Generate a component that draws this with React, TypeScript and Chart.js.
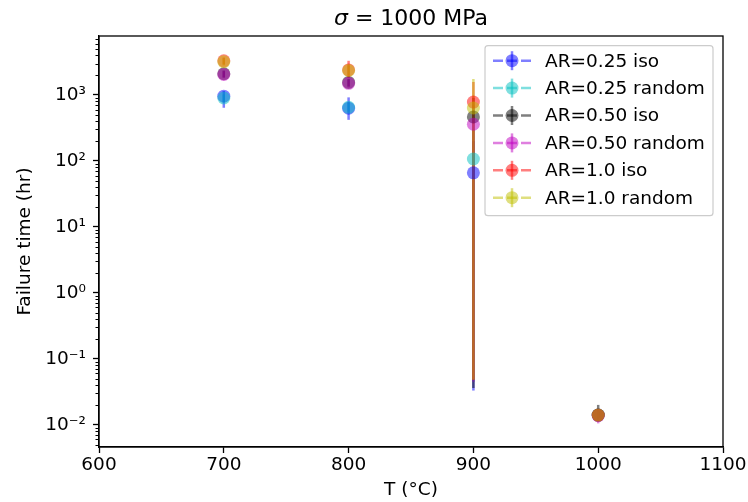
import React, { useEffect, useRef } from "react";
import { Chart, registerables } from "chart.js";

Chart.register(...registerables);

const titleSymbol = "σ";
const titleRest = " = 1000 MPa";
const xAxisTitle = "T (°C)";
const yAxisTitle = "Failure time (hr)";

const temperatures = [700, 800, 900, 1000];
const xTickValues = [600, 700, 800, 900, 1000, 1100];
const yTickValues = [0.01, 0.1, 1, 10, 100, 1000];
const yTickLabels = ["10⁻²", "10⁻¹", "10⁰", "10¹", "10²", "10³"];
const yMinorMultipliers = [2, 3, 4, 5, 6, 7, 8, 9];
const yDecades = [0.001, 0.01, 0.1, 1, 10, 100, 1000];

const seriesLabels = [
  "AR=0.25 iso",
  "AR=0.25 random",
  "AR=0.50 iso",
  "AR=0.50 random",
  "AR=1.0 iso",
  "AR=1.0 random",
];
const seriesColors = ["0,0,255", "0,191,191", "0,0,0", "191,0,191", "255,0,0", "191,191,0"];

const ar025IsoTime = [960, 630, 66, 0.014];
const ar025IsoLow = [640, 420, 0.033, 0.0128];
const ar025IsoHigh = [1150, 920, 200, 0.0155];

const ar025RandomTime = [900, 650, 107, 0.014];
const ar025RandomLow = [780, 560, 0.045, 0.0128];
const ar025RandomHigh = [1020, 760, 300, 0.0155];

const ar050IsoTime = [2100, 1550, 465, 0.014];
const ar050IsoLow = [1850, 1350, 0.036, 0.012];
const ar050IsoHigh = [2350, 1750, 900, 0.02];

const ar050RandomTime = [2050, 1500, 360, 0.0138];
const ar050RandomLow = [1800, 1300, 0.045, 0.0105];
const ar050RandomHigh = [2300, 1700, 700, 0.017];

const ar10IsoTime = [3300, 2400, 780, 0.014];
const ar10IsoLow = [2900, 1800, 0.048, 0.0125];
const ar10IsoHigh = [3700, 3300, 1580, 0.016];

const ar10RandomTime = [3200, 2350, 635, 0.014];
const ar10RandomLow = [2800, 2000, 0.048, 0.0125];
const ar10RandomHigh = [3600, 2800, 1750, 0.016];

const seriesTimes = [ar025IsoTime, ar025RandomTime, ar050IsoTime, ar050RandomTime, ar10IsoTime, ar10RandomTime];
const seriesLows = [ar025IsoLow, ar025RandomLow, ar050IsoLow, ar050RandomLow, ar10IsoLow, ar10RandomLow];
const seriesHighs = [ar025IsoHigh, ar025RandomHigh, ar050IsoHigh, ar050RandomHigh, ar10IsoHigh, ar10RandomHigh];

const xMin = 600;
const xMax = 1100;
const yMin = 0.0046;
const yMax = 7840;

const FONT = "DejaVu Sans";
const BASE = 18.5;

const errorBarPlugin = {
  id: "errorBars",
  beforeDatasetsDraw(chart: any) {
    const ctx = chart.ctx;
    const xs = chart.scales.x;
    const ys = chart.scales.y;
    ctx.save();
    ctx.lineWidth = 2.5;
    ctx.lineCap = "butt";
    chart.data.datasets.forEach((ds: any) => {
      ctx.strokeStyle = ds.errorColor;
      ds.data.forEach((p: any) => {
        const px = xs.getPixelForValue(p.x);
        ctx.beginPath();
        ctx.moveTo(px, ys.getPixelForValue(p.yMin));
        ctx.lineTo(px, ys.getPixelForValue(p.yMax));
        ctx.stroke();
      });
    });
    ctx.restore();
  },
};

const overlayPlugin = {
  id: "mplOverlay",
  afterDraw(chart: any) {
    const ctx = chart.ctx;
    const ca = chart.chartArea;
    const ys = chart.scales.y;
    ctx.save();

    // minor ticks on log axis
    ctx.strokeStyle = "#000";
    ctx.lineWidth = 1;
    yDecades.forEach((d) => {
      yMinorMultipliers.forEach((m) => {
        const v = d * m;
        if (v < yMin || v > yMax) return;
        const py = Math.round(ys.getPixelForValue(v)) + 0.5;
        ctx.beginPath();
        ctx.moveTo(ca.left, py);
        ctx.lineTo(ca.left - 3.5, py);
        ctx.stroke();
      });
    });

    // spines
    ctx.lineWidth = 1.3;
    ctx.strokeRect(ca.left, ca.top, ca.right - ca.left, ca.bottom - ca.top);

    // title
    ctx.fillStyle = "#000";
    ctx.textBaseline = "alphabetic";
    ctx.font = `italic 22px "${FONT}"`;
    const w1 = ctx.measureText(titleSymbol).width;
    ctx.font = `22px "${FONT}"`;
    const w2 = ctx.measureText(titleRest).width;
    const cx = (ca.left + ca.right) / 2;
    const tx = cx - (w1 + w2) / 2;
    ctx.font = `italic 22px "${FONT}"`;
    ctx.textAlign = "left";
    ctx.fillText(titleSymbol, tx, 25);
    ctx.font = `22px "${FONT}"`;
    ctx.fillText(titleRest, tx + w1, 25);

    // legend
    const bw = 228;
    const bh = 170;
    const bx = ca.right - 10 - bw;
    const by = ca.top + 9.7;
    const r = 3;
    ctx.beginPath();
    ctx.moveTo(bx + r, by);
    ctx.arcTo(bx + bw, by, bx + bw, by + bh, r);
    ctx.arcTo(bx + bw, by + bh, bx, by + bh, r);
    ctx.arcTo(bx, by + bh, bx, by, r);
    ctx.arcTo(bx, by, bx + bw, by, r);
    ctx.closePath();
    ctx.fillStyle = "rgba(255,255,255,0.8)";
    ctx.fill();
    ctx.strokeStyle = "#cccccc";
    ctx.lineWidth = 1.2;
    ctx.stroke();

    chart.data.datasets.forEach((ds: any, i: number) => {
      const rowY = by + 15 + i * 27.4;
      const col = ds.errorColor;
      ctx.strokeStyle = col;
      ctx.lineWidth = 2.5;
      ctx.setLineDash([10, 4]);
      ctx.beginPath();
      ctx.moveTo(bx + 8, rowY);
      ctx.lineTo(bx + 46, rowY);
      ctx.stroke();
      ctx.setLineDash([]);
      const mx = bx + 27;
      ctx.beginPath();
      ctx.moveTo(mx, rowY - 9.5);
      ctx.lineTo(mx, rowY + 9.5);
      ctx.stroke();
      ctx.fillStyle = col;
      ctx.beginPath();
      ctx.arc(mx, rowY, 6.5, 0, Math.PI * 2);
      ctx.fill();
      ctx.fillStyle = "#000";
      ctx.font = `${BASE}px "${FONT}"`;
      ctx.textBaseline = "middle";
      ctx.textAlign = "left";
      ctx.fillText(ds.label, bx + 60, rowY + 1);
    });

    ctx.restore();
  },
};

export default function App() {
  const canvasRef = useRef<HTMLCanvasElement | null>(null);

  useEffect(() => {
    if (!canvasRef.current) return;
    Chart.defaults.font.family = FONT;
    Chart.defaults.color = "#000";

    const n = seriesLabels.length;
    const datasets = seriesLabels.map((label, i) => {
      const rgb = seriesColors[i];
      return {
        label,
        order: n - i,
        errorColor: `rgba(${rgb},0.5)`,
        data: temperatures.map((t, j) => ({
          x: t,
          y: seriesTimes[i][j],
          yMin: seriesLows[i][j],
          yMax: seriesHighs[i][j],
        })),
        pointRadius: 6.5,
        pointHoverRadius: 6.5,
        pointBackgroundColor: `rgba(${rgb},0.5)`,
        pointBorderWidth: 0,
        pointBorderColor: "rgba(0,0,0,0)",
        showLine: false,
      };
    });

    const chart = new Chart(canvasRef.current, {
      type: "scatter",
      data: { datasets } as any,
      plugins: [errorBarPlugin, overlayPlugin],
      options: {
        animation: false,
        responsive: false,
        events: [],
        layout: { padding: { left: 4, right: 25, top: 36, bottom: 0 } },
        plugins: {
          legend: { display: false },
          tooltip: { enabled: false },
          title: { display: false },
        },
        scales: {
          x: {
            type: "linear",
            min: xMin,
            max: xMax,
            afterBuildTicks: (s: any) => {
              s.ticks = xTickValues.map((v) => ({ value: v }));
            },
            afterFit: (s: any) => {
              s.height = 55;
            },
            ticks: {
              font: { size: BASE },
              color: "#000",
              padding: 1,
              maxRotation: 0,
              autoSkip: false,
              callback: (v: any) => String(v),
            },
            grid: {
              display: true,
              drawOnChartArea: false,
              drawTicks: true,
              tickLength: 6,
              tickColor: "#000",
              tickWidth: 1.3,
            },
            border: { display: true, color: "#000", width: 1.3 },
            title: {
              display: true,
              text: xAxisTitle,
              font: { size: BASE },
              color: "#000",
              padding: { top: 0, bottom: 1 },
            },
          },
          y: {
            type: "logarithmic",
            min: yMin,
            max: yMax,
            afterBuildTicks: (s: any) => {
              s.ticks = yTickValues.map((v) => ({ value: v }));
            },
            afterFit: (s: any) => {
              s.width = 95;
            },
            ticks: {
              font: { size: BASE },
              color: "#000",
              padding: 7,
              autoSkip: false,
              callback: (v: any) => {
                const idx = yTickValues.findIndex(
                  (t) => Math.abs(Math.log10(t) - Math.log10(Number(v))) < 1e-6
                );
                return idx >= 0 ? yTickLabels[idx] : "";
              },
            },
            grid: {
              display: true,
              drawOnChartArea: false,
              drawTicks: true,
              tickLength: 6,
              tickColor: "#000",
              tickWidth: 1.3,
            },
            border: { display: true, color: "#000", width: 1.3 },
            title: {
              display: true,
              text: yAxisTitle,
              font: { size: BASE },
              color: "#000",
              padding: { top: 10, bottom: 0 },
            },
          },
        },
      } as any,
    });

    return () => {
      chart.destroy();
    };
  }, []);

  return (
    <div style={{ position: "fixed", left: 0, top: 0, width: 748, height: 502, background: "#fff" }}>
      <canvas ref={canvasRef} width={748} height={502} style={{ display: "block" }} />
    </div>
  );
}
